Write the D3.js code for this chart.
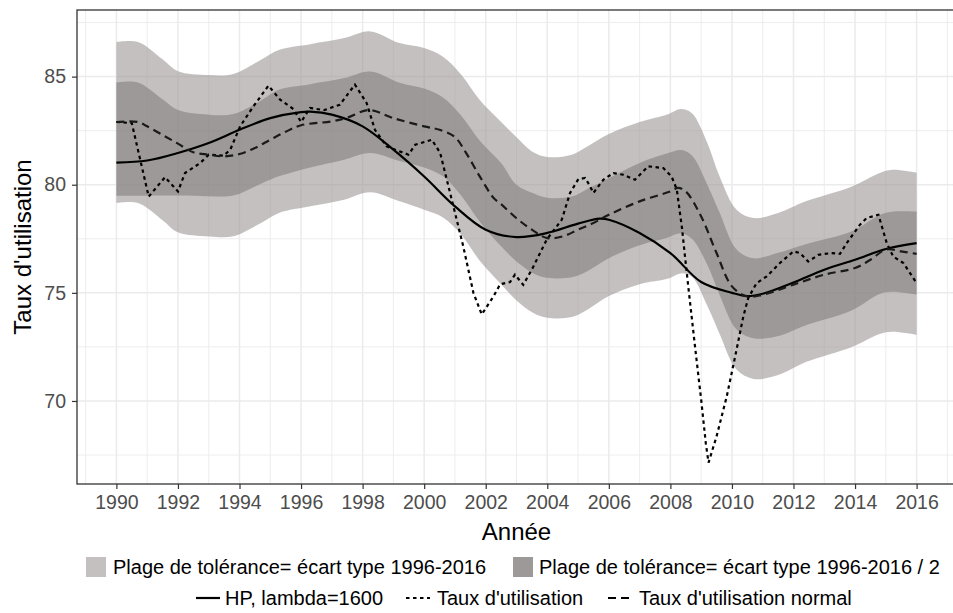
<!DOCTYPE html>
<html><head><meta charset="utf-8">
<script src="https://cdn.jsdelivr.net/npm/d3@7"></script>
<style>body{margin:0;background:#fff} text{font-family:"Liberation Sans",Arial,Helvetica,sans-serif}</style>
</head><body><svg id="c" width="953" height="613"></svg>
<script>
// ---- data ----
const bandYears  = [1990,1990.7,1991.5,1992,1993,1993.8,1994.7,1995.3,1996.3,1997.4,1998.25,1999.2,2000,2000.6,2001.2,2001.8,2002.5,2003,2003.55,2004,2004.8,2005.3,2006,2007,2007.9,2008.35,2008.7,2009.2,2009.6,2010.15,2010.7,2011.5,2012.4,2013.9,2014.8,2015.2,2016];
const lightUpper = [86.6,86.6,85.8,85.25,85.07,85.12,85.78,86.24,86.5,86.78,87.09,86.55,86.32,85.93,85.1,83.93,82.9,82.2,81.5,81.28,81.39,81.77,82.35,82.9,83.25,83.5,83.3,81.93,80.38,78.84,78.46,78.69,79.23,79.92,80.54,80.69,80.56];
const lightLower = [79.15,79.15,78.36,77.8,77.61,77.62,78.23,78.7,79.0,79.31,79.65,79.23,78.84,78.5,77.7,76.5,75.4,74.65,74.07,73.85,73.88,74.22,74.85,75.4,75.65,75.9,75.75,74.4,73.1,71.45,71.02,71.2,71.8,72.5,73.1,73.2,73.06];
const darkUpper  = [84.73,84.73,83.95,83.45,83.24,83.27,83.9,84.4,84.65,84.93,85.24,84.72,84.45,84.05,83.2,82.05,81.0,80.0,79.6,79.4,79.45,79.8,80.3,81.0,81.45,81.6,81.35,80.0,78.7,77.0,76.6,76.85,77.25,77.85,78.6,78.75,78.75];
const darkLower  = [79.49,79.49,79.5,79.5,79.47,79.5,80.05,80.4,80.8,81.16,81.47,81.1,80.8,80.4,79.5,78.3,77.15,76.45,75.9,75.7,75.72,76.0,76.6,77.2,77.55,77.75,77.5,76.3,74.9,73.3,72.9,73.0,73.5,74.2,74.95,75.05,74.92];

const hpYears  = [1990,1991,1992,1993,1994,1995,1996,1996.3,1997,1998,1999,2000,2001,2002,2003,2004,2005,2005.7,2006,2007,2008,2009,2010,2010.5,2011,2012,2013,2014,2015,2016];
const hpValues = [81.02,81.12,81.47,81.93,82.54,83.08,83.36,83.38,83.24,82.7,81.62,80.38,79.0,77.92,77.58,77.77,78.2,78.43,78.38,77.77,76.84,75.5,75.0,74.85,74.96,75.48,76.07,76.53,77.03,77.3];

const normYears  = [1990,1990.7,1991,1991.5,1992,1992.5,1993,1993.5,1994,1994.5,1995,1995.5,1996,1997,1997.5,1998.2,1999,2000,2000.5,2001,2001.35,2001.8,2002.25,2002.5,2003,2003.5,2004,2004.5,2005,2005.5,2006,2007,2008,2008.25,2008.5,2009,2009.5,2010,2010.5,2011,2012,2013,2014,2014.5,2015,2015.5,2016];
const normValues = [82.9,82.9,82.7,82.3,81.9,81.5,81.39,81.31,81.42,81.7,82.08,82.45,82.75,82.93,83.1,83.45,83.08,82.7,82.54,82.2,81.5,80.4,79.4,79.1,78.45,77.92,77.53,77.61,77.92,78.23,78.61,79.23,79.69,79.85,79.69,78.53,76.84,75.3,74.83,74.91,75.38,75.84,76.15,76.53,77.0,76.92,76.8];

const utilYears  = [1990,1990.5,1991.05,1991.58,1992,1992.23,1992.72,1993,1993.48,1993.7,1994.02,1994.45,1994.94,1995.32,1995.75,1996,1996.29,1996.75,1997.26,1997.75,1998.13,1998.4,1998.78,1999.49,1999.71,2000.25,2000.52,2000.95,2001.27,2001.6,2001.87,2002.25,2002.47,2002.79,2002.95,2003.22,2003.55,2003.98,2004.47,2004.74,2005.01,2005.23,2005.33,2005.5,2005.82,2006.15,2006.47,2006.85,2007.12,2007.28,2007.77,2008.04,2008.21,2008.37,2008.58,2008.8,2009,2009.15,2009.24,2009.5,2009.83,2010.15,2010.37,2010.53,2010.8,2011.13,2011.56,2012,2012.21,2012.48,2012.81,2013.24,2013.51,2013.73,2014.16,2014.38,2014.76,2015.03,2015.24,2015.57,2016];
const utilValues = [82.9,82.85,79.45,80.35,79.69,80.54,81.0,81.39,81.34,81.62,82.7,83.62,84.58,83.93,83.5,82.9,83.55,83.45,83.7,84.63,83.78,82.54,81.77,81.39,81.85,82.08,81.47,79.0,77.15,75.0,74.0,74.83,75.4,75.5,75.84,75.37,76.22,77.46,78.38,79.62,80.26,80.31,80.08,79.62,80.23,80.54,80.46,80.23,80.62,80.85,80.77,80.38,79.77,78.07,75.3,72.52,70.06,68.05,67.15,68.36,70.2,72.37,73.91,74.76,75.45,75.76,76.38,76.92,76.84,76.45,76.76,76.84,76.8,77.3,78.15,78.46,78.61,77.3,76.68,76.38,75.45];

const xTicks = d3.range(1990, 2017, 2);
const xMinor = d3.range(1989, 2018, 2);
const yTicks = [70, 75, 80, 85];
const yMinor = [67.5, 72.5, 77.5, 82.5, 87.5];

const legendFill = ["Plage de tolérance= écart type 1996-2016", "Plage de tolérance= écart type 1996-2016 / 2"];
const legendLine = ["HP, lambda=1600", "Taux d'utilisation", "Taux d'utilisation normal"];

// ---- layout ----
const P = {l: 77, t: 10, r: 956, b: 484};
const x = d3.scaleLinear().domain([1988.72, 2017.28]).range([P.l, P.r]);
const y = d3.scaleLinear().domain([66.16, 88.08]).range([P.b, P.t]);
const svg = d3.select("#c");
const tickCol = "#4d4d4d", gridCol = "#ebebeb";

const g = svg.append("g");
// grid
g.selectAll(".xm").data(xMinor).join("line").attr("x1", d => x(d)).attr("x2", d => x(d)).attr("y1", P.t).attr("y2", P.b).attr("stroke", gridCol).attr("stroke-width", 0.9);
g.selectAll(".ym").data(yMinor).join("line").attr("y1", d => y(d)).attr("y2", d => y(d)).attr("x1", P.l).attr("x2", P.r).attr("stroke", gridCol).attr("stroke-width", 0.9);
g.selectAll(".xM").data(xTicks).join("line").attr("x1", d => x(d)).attr("x2", d => x(d)).attr("y1", P.t).attr("y2", P.b).attr("stroke", gridCol).attr("stroke-width", 1.5);
g.selectAll(".yM").data(yTicks).join("line").attr("y1", d => y(d)).attr("y2", d => y(d)).attr("x1", P.l).attr("x2", P.r).attr("stroke", gridCol).attr("stroke-width", 1.5);

// bands
const curve = d3.curveCatmullRom.alpha(0.5);
const idx = d3.range(bandYears.length);
const areaLight = d3.area().x(i => x(bandYears[i])).y0(i => y(lightLower[i])).y1(i => y(lightUpper[i])).curve(curve);
const areaDark = d3.area().x(i => x(bandYears[i])).y0(i => y(darkLower[i])).y1(i => y(darkUpper[i])).curve(curve);
g.append("path").attr("d", areaLight(idx)).attr("fill", "rgb(157,150,150)").attr("fill-opacity", 0.6);
g.append("path").attr("d", areaDark(idx)).attr("fill", "rgb(132,127,127)").attr("fill-opacity", 0.6);

// lines
const lineOf = (xs, vs, c) => d3.line().x(i => x(xs[i])).y(i => y(vs[i])).curve(c)(d3.range(xs.length));
g.append("path").attr("d", lineOf(hpYears, hpValues, curve)).attr("fill", "none").attr("stroke", "#000").attr("stroke-width", 2.2);
g.append("path").attr("d", lineOf(utilYears, utilValues, d3.curveLinear)).attr("fill", "none").attr("stroke", "#000").attr("stroke-width", 2.2).attr("stroke-dasharray", "3.5,3.5");
g.append("path").attr("d", lineOf(normYears, normValues, curve)).attr("fill", "none").attr("stroke", "#1a1a1a").attr("stroke-width", 2.2).attr("stroke-dasharray", "8,5");

// panel border
svg.append("rect").attr("x", P.l).attr("y", P.t).attr("width", P.r - P.l).attr("height", P.b - P.t).attr("fill", "none").attr("stroke", "#333").attr("stroke-width", 1.3);

// axes
const xAxis = svg.append("g").attr("transform", `translate(0,${P.b})`).call(d3.axisBottom(x).tickValues(xTicks).tickFormat(d3.format("d")).tickSize(5).tickPadding(6));
const yAxis = svg.append("g").attr("transform", `translate(${P.l},0)`).call(d3.axisLeft(y).tickValues(yTicks).tickSize(5).tickPadding(6));
[xAxis, yAxis].forEach(a => {
  a.select(".domain").remove();
  a.selectAll(".tick line").attr("stroke", "#333").attr("stroke-width", 1.2);
  a.selectAll(".tick text").attr("fill", tickCol).style("font-size", "19.5px").style("font-family", '"Liberation Sans",Arial,sans-serif');
});

svg.append("text").attr("x", (P.l + P.r) / 2).attr("y", 540).attr("text-anchor", "middle").style("font-size", "24px").attr("fill", "#000").text("Année");
svg.append("text").attr("transform", `translate(31,${(P.t + P.b) / 2}) rotate(-90)`).attr("text-anchor", "middle").style("font-size", "24px").attr("fill", "#000").text("Taux d'utilisation");

// legend row 1
const fills = ["rgb(196,192,192)", "rgb(157,153,153)"];
const r1x = [86, 513], r1t = [113, 539], r1y = 567;
legendFill.forEach((t, i) => {
  svg.append("rect").attr("x", r1x[i]).attr("y", r1y - 10).attr("width", 20).attr("height", 20).attr("fill", fills[i]);
  svg.append("text").attr("x", r1t[i]).attr("y", r1y + 7).style("font-size", "20px").attr("fill", "#000").text(t);
});
// legend row 2
const r2x = [196, 406, 608], r2t = [225, 437, 639], r2y = 598;
const dashes = [null, "3.5,3.5", "8,5"];
legendLine.forEach((t, i) => {
  const l = svg.append("line").attr("x1", r2x[i]).attr("x2", r2x[i] + 24).attr("y1", r2y).attr("y2", r2y).attr("stroke", "#000").attr("stroke-width", 2.2);
  if (dashes[i]) l.attr("stroke-dasharray", dashes[i]);
  svg.append("text").attr("x", r2t[i]).attr("y", r2y + 7).style("font-size", "20px").attr("fill", "#000").text(t);
});
</script></body></html>
